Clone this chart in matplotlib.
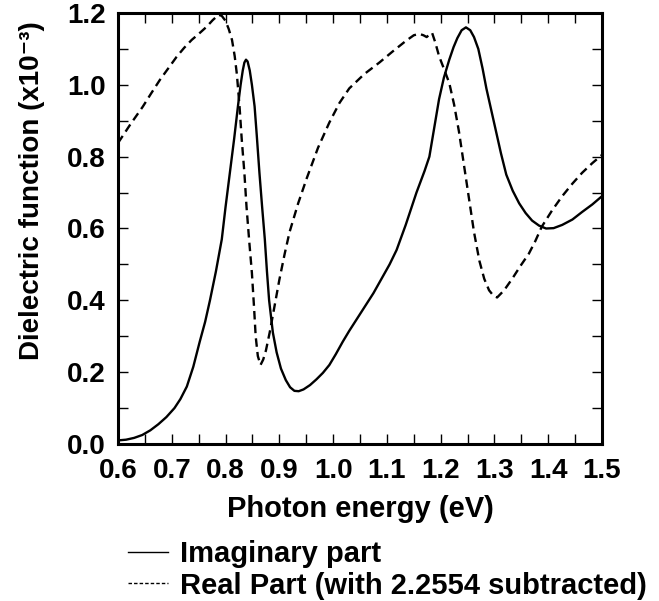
import matplotlib
matplotlib.use("Agg")
import matplotlib.pyplot as plt
from matplotlib.lines import Line2D
from matplotlib.ticker import MultipleLocator

plt.rcParams["font.family"] = ["Liberation Sans", "DejaVu Sans"]
plt.rcParams["font.weight"] = "bold"

# ─── Data (units of 1e-3) ────────────────────────────────────────────────────

imag_x = [0.600, 0.615, 0.630, 0.645, 0.660, 0.675, 0.690, 0.705, 0.716, 0.728,
          0.740, 0.752, 0.762, 0.771, 0.782, 0.793, 0.800, 0.808, 0.816, 0.823,
          0.828, 0.832, 0.835, 0.838, 0.841, 0.845, 0.849, 0.854, 0.858, 0.863,
          0.868, 0.873, 0.877, 0.881, 0.888, 0.895, 0.903, 0.912, 0.920, 0.928,
          0.936, 0.945, 0.957, 0.969, 0.981, 0.993, 1.005, 1.018, 1.030, 1.045,
          1.060, 1.075, 1.090, 1.105, 1.118, 1.135, 1.155, 1.170, 1.179, 1.188,
          1.197, 1.206, 1.216, 1.224, 1.231, 1.239, 1.247, 1.255, 1.262, 1.270,
          1.278, 1.285, 1.294, 1.303, 1.312, 1.322, 1.334, 1.346, 1.358, 1.370,
          1.383, 1.396, 1.410, 1.426, 1.445, 1.463, 1.482, 1.500]
imag_y = [0.010, 0.012, 0.017, 0.025, 0.038, 0.055, 0.075, 0.100, 0.125, 0.160,
          0.215, 0.285, 0.340, 0.400, 0.480, 0.570, 0.660, 0.755, 0.850, 0.940,
          1.000, 1.040, 1.062, 1.070, 1.065, 1.040, 1.000, 0.940, 0.860, 0.755,
          0.660, 0.570, 0.480, 0.400, 0.310, 0.255, 0.210, 0.178, 0.158, 0.148,
          0.147, 0.152, 0.164, 0.180, 0.198, 0.220, 0.250, 0.285, 0.315, 0.350,
          0.385, 0.420, 0.460, 0.500, 0.540, 0.610, 0.700, 0.760, 0.800, 0.880,
          0.960, 1.020, 1.070, 1.105, 1.130, 1.152, 1.160, 1.152, 1.133, 1.100,
          1.045, 0.990, 0.930, 0.870, 0.810, 0.750, 0.705, 0.670, 0.643, 0.622,
          0.608, 0.600, 0.601, 0.610, 0.625, 0.646, 0.667, 0.690]

real_x = [0.600, 0.623, 0.646, 0.662, 0.678, 0.694, 0.709, 0.723, 0.737, 0.751,
          0.765, 0.776, 0.787, 0.793, 0.800, 0.806, 0.812, 0.817, 0.821, 0.826,
          0.830, 0.835, 0.839, 0.844, 0.849, 0.853, 0.856, 0.860, 0.865, 0.870,
          0.875, 0.882, 0.890, 0.900, 0.910, 0.919, 0.935, 0.951, 0.972, 0.993,
          1.012, 1.030, 1.058, 1.086, 1.110, 1.135, 1.150, 1.160, 1.168, 1.174,
          1.179, 1.184, 1.190, 1.197, 1.206, 1.216, 1.225, 1.234, 1.243, 1.253,
          1.262, 1.272, 1.281, 1.290, 1.298, 1.305, 1.318, 1.333, 1.348, 1.364,
          1.376, 1.388, 1.407, 1.426, 1.445, 1.463, 1.482, 1.500]
real_y = [0.838, 0.890, 0.939, 0.977, 1.014, 1.047, 1.078, 1.103, 1.125, 1.143,
          1.162, 1.180, 1.195, 1.192, 1.178, 1.155, 1.125, 1.080, 1.030, 0.940,
          0.850, 0.755, 0.660, 0.565, 0.476, 0.380, 0.300, 0.245, 0.220, 0.235,
          0.260, 0.310, 0.375, 0.457, 0.530, 0.590, 0.670, 0.740, 0.825, 0.895,
          0.950, 0.990, 1.030, 1.062, 1.092, 1.122, 1.138, 1.142, 1.138, 1.133,
          1.140, 1.145, 1.118, 1.080, 1.045, 1.005, 0.945, 0.870, 0.780, 0.680,
          0.590, 0.510, 0.460, 0.428, 0.413, 0.408, 0.428, 0.460, 0.495, 0.530,
          0.565, 0.605, 0.650, 0.690, 0.725, 0.755, 0.782, 0.805]

imag_label = "Imaginary part"
real_label = "Real Part (with 2.2554 subtracted)"

# ─── Plot ────────────────────────────────────────────────────────────────────

fig = plt.figure(figsize=(6.59, 6.01), dpi=100)
ax = fig.add_axes([118 / 659, 1 - 444 / 601, 484 / 659, 431 / 601])

ax.plot(imag_x, imag_y, color="black", lw=1.7, ls="-")
ax.plot(real_x, real_y, color="black", lw=1.7, ls=(0, (3.6, 2.2)))

ax.set_xlim(0.6, 1.5)
ax.set_ylim(0.0, 1.2)
ax.xaxis.set_major_locator(MultipleLocator(0.1))
ax.xaxis.set_minor_locator(MultipleLocator(0.05))
ax.yaxis.set_major_locator(MultipleLocator(0.2))
ax.yaxis.set_minor_locator(MultipleLocator(0.1))
ax.xaxis.set_major_formatter(lambda v, p: f"{v:.1f}")
ax.yaxis.set_major_formatter(lambda v, p: f"{v:.1f}")

for which in ("major", "minor"):
    ax.tick_params(which=which, direction="in", length=7, width=1,
                   top=True, right=True)
ax.tick_params(axis="x", which="major", labelsize=20, pad=10)
ax.tick_params(axis="y", which="major", labelsize=20, pad=9)
for lab in ax.get_xticklabels() + ax.get_yticklabels():
    lab.set_fontweight("bold")
for sp in ax.spines.values():
    sp.set_linewidth(2.2)

ax.set_xlabel("Photon energy (eV)", fontsize=21, fontweight="bold", labelpad=8)
ax.set_ylabel("Dielectric function (x10\u207b\u00b3)", fontsize=20,
              fontweight="bold")
ax.yaxis.set_label_coords(-0.15, 0.587)

handles = [Line2D([], [], color="black", lw=1.0, ls="-"),
           Line2D([], [], color="black", lw=1.0, ls=(0, (2.5, 1.5)))]
fig.legend(handles, [imag_label, real_label], loc="upper left",
           bbox_to_anchor=(128 / 659, 1 - 540 / 601), frameon=False,
           handlelength=1.37, handletextpad=0.43,
           labelspacing=0.12, borderaxespad=0, borderpad=0,
           prop={"weight": "bold", "size": 21})

fig.savefig("out.png", dpi=100, facecolor="white")
